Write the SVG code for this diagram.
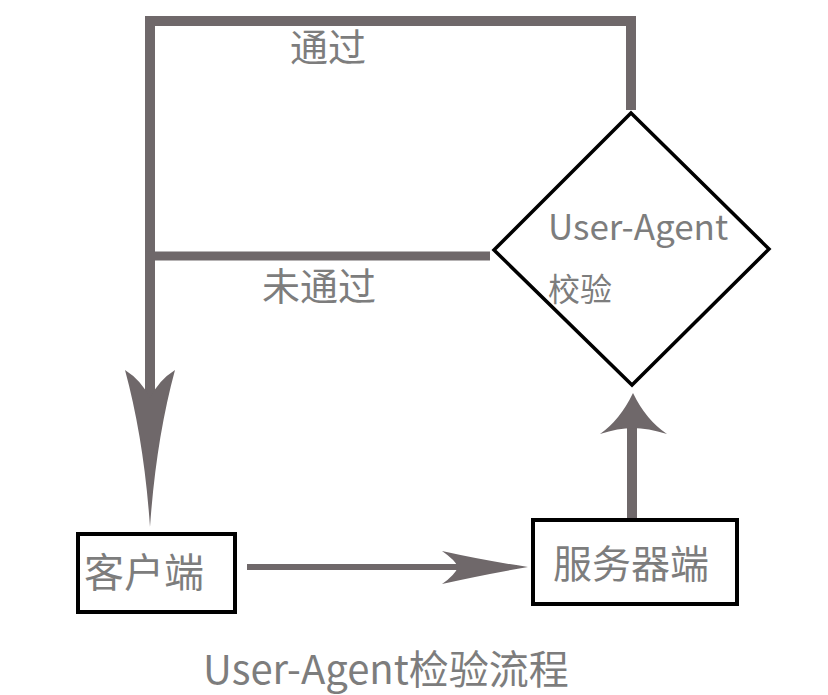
<svg xmlns="http://www.w3.org/2000/svg" width="828" height="695" viewBox="0 0 828 695">
<style>
.ln{stroke:#6f686a;fill:none;stroke-linecap:butt}
.ah{fill:#6f686a;stroke:none}
.box{fill:#fff;stroke:#000;stroke-width:4}
.t{font-family:"Noto Sans CJK SC","Noto Sans",sans-serif;fill:#7d7d7d}
</style>
<rect width="828" height="695" fill="#fff"/>
<g id="connectors">
<polyline class="ln" stroke-width="10" points="631,110 631,21 150,21 150,400"/>
<line class="ln" x1="146" y1="256" x2="490" y2="256" stroke-width="9"/>
<path class="ah" d="M150,527 Q144,440 125,370 Q141,380 150,398 Q159,380 175,370 Q156,440 150,527 Z"/>
<line class="ln" x1="247" y1="567" x2="460" y2="567" stroke-width="6"/>
<path class="ah" d="M528,567 Q482,560 442,551 Q455,560 458,567 Q455,575 442,584 Q482,575 528,567 Z"/>
<line class="ln" x1="632" y1="518" x2="632" y2="426" stroke-width="10"/>
<path class="ah" d="M633,393 Q620,420 600,434 Q618,428 633,428 Q648,428 667,434 Q646,420 633,393 Z"/>
<text class="t" x="290" y="61" font-size="38">通过</text>
<text class="t" x="262" y="300" font-size="38">未通过</text>
</g>
<g id="check">
<polygon points="631,113 769,249 632,385 494,250" fill="#fff" stroke="#000" stroke-width="3.5"/>
<text class="t" x="548" y="240" font-size="35">User-Agent</text>
<text class="t" x="548" y="301" font-size="32">校验</text>
</g>
<g id="client">
<rect class="box" x="78" y="534" width="157" height="78"/>
<text class="t" x="84" y="587" font-size="40">客户端</text>
</g>
<g id="server">
<rect class="box" x="533" y="520" width="204" height="84"/>
<text class="t" x="553" y="578" font-size="39">服务器端</text>
</g>
<g id="caption">
<text class="t" x="203" y="684" font-size="40">User-Agent检验流程</text>
</g>
</svg>
